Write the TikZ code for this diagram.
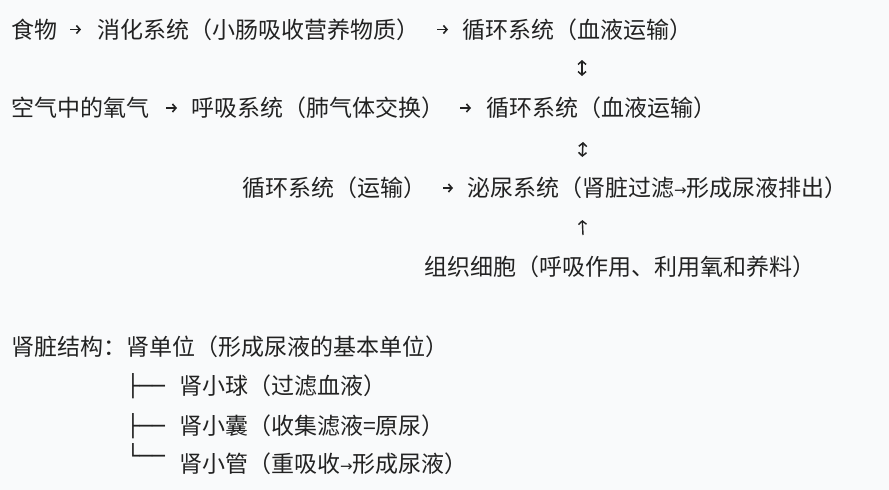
\documentclass[tikz,border=0pt]{standalone}
\usepackage{fontspec}
\setmainfont{Noto Sans CJK SC}
\newfontfamily\arrowfont{DejaVu Sans}
\newfontfamily\boxfont{DejaVu Sans Mono}
\usetikzlibrary{arrows.meta}
\definecolor{ink}{HTML}{222222}
\definecolor{bg}{HTML}{F9FAFB}
\newcommand{\inarr}{\raisebox{1.4pt}{\fontsize{15}{15}\arrowfont →}}
\begin{document}
\begin{tikzpicture}[x=1pt,y=-1pt,
  txt/.style={anchor=west,inner sep=0pt,outer sep=0pt,text=ink,font=\fontsize{23}{27}\selectfont,text height=20.2pt,text depth=2.8pt},
  tree/.style={anchor=base west,inner sep=0pt,outer sep=0pt,text=ink,font=\fontsize{21.3}{25}\boxfont},
  arr/.style={draw=ink,line width=1.6pt,-{Straight Barb[length=3.5pt,width=8pt]}},
  dar/.style={draw=ink,line width=1.5pt,{Straight Barb[length=3.5pt,width=8pt]}-{Straight Barb[length=3.5pt,width=8pt]}}
]
\fill[bg] (0,0) rectangle (889,490);
\useasboundingbox (0,0) rectangle (889,490);
% row 1
\node[txt] (f1) at (11,29.5) {食物};
\node[txt] (d1) at (97,29.5) {消化系统（小肠吸收营养物质）};
\node[txt] (c1) at (462,29.5) {循环系统（血液运输）};
% row 3
\node[txt] (a3) at (11,108) {空气中的氧气};
\node[txt] (r3) at (191,108) {呼吸系统（肺气体交换）};
\node[txt] (c3) at (486,108) {循环系统（血液运输）};
% row 5
\node[txt] (l5) at (242,188) {循环系统（运输）};
\node[txt] (u5) at (467,188) {泌尿系统（肾脏过滤\inarr 形成尿液排出）};
% row 7
\node[txt] (t7) at (424,267) {组织细胞（呼吸作用、利用氧和养料）};
% kidney structure
\node[txt] (k8) at (12,347) {肾脏结构：肾单位（形成尿液的基本单位）};
\node[tree] (b9) at (126.6,393.4) {├──};
\node[txt] (s9) at (179,386) {肾小球（过滤血液）};
\node[tree] (b10) at (126.6,433.4) {├──};
\node[txt] (s10) at (179,426) {肾小囊（收集滤液=原尿）};
\node[tree] (b11) at (126.6,463.4) {└──};
\node[txt] (s11) at (179,464) {肾小管（重吸收\inarr 形成尿液）};
% horizontal arrows
\draw[arr,shorten <=13pt,shorten >=16pt] (f1.east) -- (d1.west);
\draw[arr,shorten <=18pt,shorten >=14pt] (d1.east) -- (c1.west);
\draw[arr,shorten <=17pt,shorten >=14pt] (a3.east) -- (r3.west);
\draw[arr,shorten <=16pt,shorten >=15pt] (r3.east) -- (c3.west);
\draw[arr,shorten <=17pt,shorten >=14pt] (l5.east) -- (u5.west);
% vertical arrows
\draw[dar] ([xshift=5pt,yshift=-19pt]c1.south) -- ([xshift=-19pt,yshift=20.5pt]c3.north);
\draw[dar] ([xshift=-18pt,yshift=-22.5pt]c3.south) -- ([xshift=-75pt,yshift=19.5pt]u5.north);
\draw[arr,line width=1.4pt] ([xshift=-36.5pt,yshift=20.5pt]t7.north) -- ([xshift=-75pt,yshift=-20.5pt]u5.south);
\end{tikzpicture}
\end{document}
